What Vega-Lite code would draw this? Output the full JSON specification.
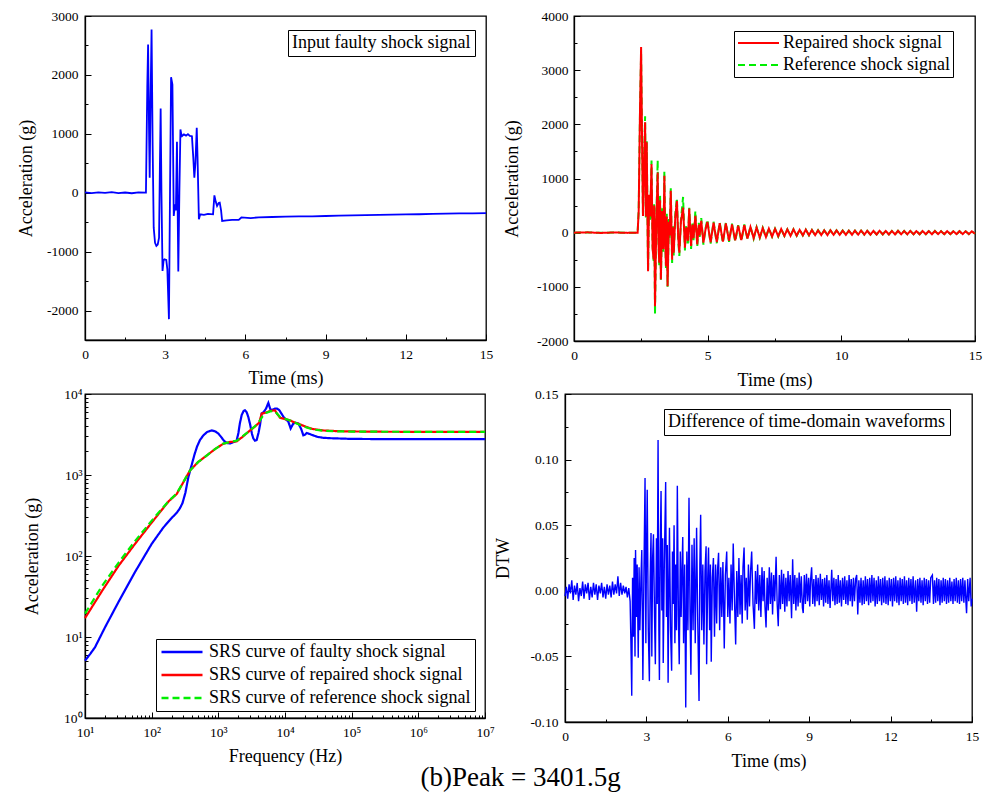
{
"$schema": "https://vega.github.io/schema/vega-lite/v6.json",
"padding": {"left": 16, "top": 8, "right": 0, "bottom": 0},
"background": "#ffffff",
"datasets": {
"faulty": [
{"t":0,"v":5},{"t":0.25,"v":-8},{"t":0.5,"v":6},{"t":0.75,"v":-4},{"t":1,"v":10},{"t":1.25,"v":-6},{"t":1.5,"v":4},{"t":1.75,"v":-9},{"t":2,"v":7},{"t":2.28,"v":2},
{"t":2.33,"v":1800},{"t":2.36,"v":2515},{"t":2.4,"v":900},{"t":2.42,"v":254},{"t":2.45,"v":1500},{"t":2.49,"v":2769},{"t":2.53,"v":800},{"t":2.57,"v":-593},{"t":2.62,"v":-850},{"t":2.67,"v":-903},{"t":2.72,"v":-880},{"t":2.77,"v":-762},{"t":2.8,"v":400},{"t":2.83,"v":1430},{"t":2.86,"v":0},{"t":2.9,"v":-1327},{"t":2.94,"v":-1150},{"t":2.97,"v":-1130},{"t":3.04,"v":-1140},{"t":3.08,"v":-1300},{"t":3.14,"v":-2146},{"t":3.18,"v":0},{"t":3.22,"v":1961},{"t":3.27,"v":1837},{"t":3.32,"v":-395},{"t":3.36,"v":-230},{"t":3.38,"v":-197},{"t":3.4,"v":-300},{"t":3.44,"v":865},{"t":3.49,"v":-1339},{"t":3.53,"v":0},{"t":3.57,"v":1074},{"t":3.6,"v":1000},{"t":3.63,"v":961},{"t":3.7,"v":990},{"t":3.78,"v":970},{"t":3.85,"v":995},{"t":3.92,"v":965},{"t":4.0,"v":960},{"t":4.05,"v":600},{"t":4.09,"v":254},{"t":4.13,"v":500},{"t":4.18,"v":1102},{"t":4.21,"v":600},{"t":4.26,"v":-451},{"t":4.31,"v":-366},{"t":4.45,"v":-375},{"t":4.6,"v":-360},{"t":4.79,"v":-366},{"t":4.84,"v":-44},{"t":4.89,"v":-150},{"t":4.94,"v":-225},{"t":5.0,"v":-175},{"t":5.04,"v":-169},{"t":5.09,"v":-300},{"t":5.13,"v":-480},{"t":5.3,"v":-470},{"t":5.5,"v":-460},{"t":5.75,"v":-460},{"t":5.85,"v":-420},{"t":6.2,"v":-430},{"t":6.5,"v":-418},{"t":7,"v":-412},{"t":7.5,"v":-405},{"t":8,"v":-400},{"t":8.5,"v":-402},{"t":9,"v":-395},{"t":9.5,"v":-390},{"t":10,"v":-385},{"t":10.5,"v":-380},{"t":11,"v":-375},{"t":11.5,"v":-372},{"t":12,"v":-367},{"t":12.5,"v":-365},{"t":13,"v":-360},{"t":13.5,"v":-356},{"t":14,"v":-352},{"t":14.5,"v":-350},{"t":15,"v":-345}
],
"repaired": [
{"t":0,"rep":0,"ref":0},{"t":0.5,"rep":6,"ref":4},{"t":1,"rep":-5,"ref":-3},{"t":1.5,"rep":4,"ref":5},{"t":2,"rep":-4,"ref":-2},{"t":2.38,"rep":0,"ref":0},
{"t":2.42,"rep":400,"ref":420},{"t":2.47,"rep":2300,"ref":2250},{"t":2.51,"rep":3426,"ref":3300},{"t":2.55,"rep":1500,"ref":1550},{"t":2.58,"rep":309,"ref":350},{"t":2.62,"rep":1200,"ref":1300},{"t":2.66,"rep":2037,"ref":2150},{"t":2.69,"rep":300,"ref":250},{"t":2.72,"rep":1667,"ref":1700},{"t":2.77,"rep":-711,"ref":-720},{"t":2.81,"rep":700,"ref":650},{"t":2.85,"rep":300,"ref":200},{"t":2.9,"rep":1265,"ref":1330},{"t":2.94,"rep":-300,"ref":-250},{"t":2.98,"rep":-494,"ref":-520},{"t":3.0,"rep":500,"ref":560},{"t":3.03,"rep":-1358,"ref":-1500},{"t":3.08,"rep":200,"ref":250},{"t":3.13,"rep":1111,"ref":1340},{"t":3.16,"rep":-200,"ref":-150},{"t":3.19,"rep":-556,"ref":-600},{"t":3.22,"rep":600,"ref":700},{"t":3.25,"rep":-864,"ref":-900},{"t":3.3,"rep":400,"ref":450},{"t":3.34,"rep":-300,"ref":-350},{"t":3.38,"rep":1049,"ref":1140},{"t":3.41,"rep":-100,"ref":-80},{"t":3.44,"rep":-620,"ref":-650},{"t":3.47,"rep":300,"ref":350},{"t":3.5,"rep":-988,"ref":-1000},{"t":3.55,"rep":200,"ref":250},{"t":3.58,"rep":-50,"ref":-100},{"t":3.62,"rep":772,"ref":820},{"t":3.67,"rep":-500,"ref":-560},{"t":3.7,"rep":100,"ref":150},{"t":3.73,"rep":-370,"ref":-420},{"t":3.79,"rep":300,"ref":350},{"t":3.85,"rep":586,"ref":640},{"t":3.9,"rep":-100,"ref":-150},{"t":3.94,"rep":-370,"ref":-430},{"t":4.0,"rep":200,"ref":240},{"t":4.08,"rep":463,"ref":660},{"t":4.15,"rep":-278,"ref":-330},{"t":4.2,"rep":100,"ref":120},{"t":4.26,"rep":-150,"ref":-200},{"t":4.31,"rep":444,"ref":460},{"t":4.38,"rep":-247,"ref":-300},{"t":4.43,"rep":150,"ref":170},{"t":4.47,"rep":-100,"ref":-140},{"t":4.54,"rep":309,"ref":400},{"t":4.61,"rep":-216,"ref":-260},{"t":4.67,"rep":150,"ref":180},{"t":4.7,"rep":-50,"ref":-80},{"t":4.76,"rep":216,"ref":270},{"t":4.84,"rep":-185,"ref":-220},{"t":4.92,"rep":60,"ref":80},{"t":4.99,"rep":198,"ref":240},{"t":5.11,"rep":-180,"ref":-200},
{"t":5.22,"rep":185,"ref":205},{"t":5.34,"rep":-175,"ref":-195},{"t":5.45,"rep":175,"ref":190},{"t":5.57,"rep":-165,"ref":-185},{"t":5.68,"rep":170,"ref":185},{"t":5.8,"rep":-150,"ref":-170},{"t":5.91,"rep":150,"ref":165},{"t":6.03,"rep":-140,"ref":-165},{"t":6.14,"rep":130,"ref":140},{"t":6.26,"rep":-135,"ref":-160},{"t":6.37,"rep":140,"ref":150},{"t":6.49,"rep":-110,"ref":-120},{"t":6.6,"rep":105,"ref":115},{"t":6.72,"rep":-100,"ref":-110},{"t":6.83,"rep":95,"ref":100},{"t":6.95,"rep":-90,"ref":-95},{"t":7.06,"rep":85,"ref":88},{"t":7.18,"rep":-80,"ref":-85},{"t":7.29,"rep":75,"ref":80},{"t":7.41,"rep":-72,"ref":-75},{"t":7.52,"rep":70,"ref":72},{"t":7.64,"rep":-65,"ref":-70},{"t":7.75,"rep":68,"ref":70},{"t":7.87,"rep":-60,"ref":-62},{"t":7.98,"rep":60,"ref":62},{"t":8.1,"rep":-58,"ref":-60},{"t":8.21,"rep":62,"ref":60},{"t":8.33,"rep":-55,"ref":-56},{"t":8.44,"rep":52,"ref":55},{"t":8.56,"rep":-50,"ref":-52},{"t":8.67,"rep":55,"ref":56},{"t":8.79,"rep":-48,"ref":-50},{"t":8.9,"rep":48,"ref":50},{"t":9.02,"rep":-46,"ref":-47},{"t":9.13,"rep":44,"ref":46},{"t":9.25,"rep":-45,"ref":-45},{"t":9.36,"rep":42,"ref":44},{"t":9.48,"rep":-44,"ref":-44},{"t":9.59,"rep":45,"ref":45},{"t":9.71,"rep":-40,"ref":-42},{"t":9.82,"rep":42,"ref":43},{"t":9.94,"rep":-40,"ref":-40},{"t":10.05,"rep":38,"ref":40},{"t":10.17,"rep":-40,"ref":-40},{"t":10.28,"rep":36,"ref":38},{"t":10.4,"rep":-38,"ref":-38},{"t":10.51,"rep":37,"ref":37},{"t":10.63,"rep":-36,"ref":-36},{"t":10.74,"rep":38,"ref":38},{"t":10.86,"rep":-35,"ref":-36},{"t":10.97,"rep":34,"ref":35},{"t":11.09,"rep":-36,"ref":-36},{"t":11.2,"rep":33,"ref":34},{"t":11.32,"rep":-34,"ref":-34},{"t":11.43,"rep":35,"ref":35},{"t":11.55,"rep":-32,"ref":-33},{"t":11.66,"rep":32,"ref":32},{"t":11.78,"rep":-33,"ref":-33},{"t":11.89,"rep":31,"ref":32},{"t":12.01,"rep":-32,"ref":-32},{"t":12.12,"rep":33,"ref":33},{"t":12.24,"rep":-30,"ref":-31},{"t":12.35,"rep":30,"ref":30},{"t":12.47,"rep":-31,"ref":-31},{"t":12.58,"rep":32,"ref":32},{"t":12.7,"rep":-30,"ref":-30},{"t":12.81,"rep":29,"ref":29},{"t":12.93,"rep":-30,"ref":-30},{"t":13.04,"rep":30,"ref":30},{"t":13.16,"rep":-28,"ref":-29},{"t":13.27,"rep":28,"ref":28},{"t":13.39,"rep":-29,"ref":-29},{"t":13.5,"rep":30,"ref":30},{"t":13.62,"rep":-27,"ref":-27},{"t":13.73,"rep":27,"ref":28},{"t":13.85,"rep":-28,"ref":-28},{"t":13.96,"rep":28,"ref":28},{"t":14.08,"rep":-27,"ref":-27},{"t":14.19,"rep":26,"ref":26},{"t":14.31,"rep":-27,"ref":-27},{"t":14.42,"rep":27,"ref":27},{"t":14.54,"rep":-26,"ref":-26},{"t":14.65,"rep":26,"ref":26},{"t":14.77,"rep":-27,"ref":-27},{"t":14.88,"rep":25,"ref":25},{"t":15,"rep":-20,"ref":-20}
],
"srs": [
{"s":"faulty","f":10,"a":5.1},{"s":"faulty","f":12,"a":6.2},{"s":"faulty","f":14.1,"a":7.45},{"s":"faulty","f":20,"a":13.2},{"s":"faulty","f":31.6,"a":26.8},{"s":"faulty","f":56,"a":63},{"s":"faulty","f":100,"a":141},{"s":"faulty","f":150,"a":225},{"s":"faulty","f":200,"a":295},{"s":"faulty","f":240,"a":345},{"s":"faulty","f":266,"a":390},{"s":"faulty","f":290,"a":450},{"s":"faulty","f":320,"a":600},{"s":"faulty","f":355,"a":940},{"s":"faulty","f":400,"a":1350},{"s":"faulty","f":440,"a":1800},{"s":"faulty","f":480,"a":2250},{"s":"faulty","f":530,"a":2700},{"s":"faulty","f":596,"a":3085},{"s":"faulty","f":680,"a":3400},{"s":"faulty","f":794,"a":3550},{"s":"faulty","f":900,"a":3450},{"s":"faulty","f":1000,"a":3250},{"s":"faulty","f":1100,"a":2950},{"s":"faulty","f":1200,"a":2680},{"s":"faulty","f":1334,"a":2480},{"s":"faulty","f":1500,"a":2450},{"s":"faulty","f":1700,"a":2550},{"s":"faulty","f":1884,"a":2670},{"s":"faulty","f":2000,"a":3300},{"s":"faulty","f":2100,"a":4300},{"s":"faulty","f":2239,"a":5500},{"s":"faulty","f":2400,"a":6200},{"s":"faulty","f":2512,"a":6300},{"s":"faulty","f":2650,"a":6000},{"s":"faulty","f":2818,"a":5200},{"s":"faulty","f":3000,"a":4200},{"s":"faulty","f":3200,"a":3200},{"s":"faulty","f":3350,"a":2830},{"s":"faulty","f":3550,"a":2650},{"s":"faulty","f":3758,"a":2700},{"s":"faulty","f":4000,"a":3300},{"s":"faulty","f":4217,"a":4140},{"s":"faulty","f":4467,"a":5750},{"s":"faulty","f":4800,"a":6000},{"s":"faulty","f":5190,"a":6600},{"s":"faulty","f":5450,"a":7300},{"s":"faulty","f":5623,"a":7760},{"s":"faulty","f":5850,"a":7000},{"s":"faulty","f":6095,"a":6310},{"s":"faulty","f":6500,"a":6400},{"s":"faulty","f":7080,"a":6600},{"s":"faulty","f":7600,"a":6600},{"s":"faulty","f":8222,"a":6310},{"s":"faulty","f":9440,"a":5250},{"s":"faulty","f":10200,"a":4900},{"s":"faulty","f":11220,"a":4550},{"s":"faulty","f":12160,"a":3760},{"s":"faulty","f":13340,"a":4330},{"s":"faulty","f":14500,"a":4400},{"s":"faulty","f":15850,"a":4330},{"s":"faulty","f":17500,"a":3700},{"s":"faulty","f":18840,"a":3085},{"s":"faulty","f":20000,"a":3150},{"s":"faulty","f":21130,"a":3300},{"s":"faulty","f":23500,"a":3200},{"s":"faulty","f":26600,"a":3085},{"s":"faulty","f":31000,"a":2950},{"s":"faulty","f":37600,"a":2880},{"s":"faulty","f":48000,"a":2845},{"s":"faulty","f":59600,"a":2830},{"s":"faulty","f":100000,"a":2790},{"s":"faulty","f":200000,"a":2780},{"s":"faulty","f":1000000,"a":2780},{"s":"faulty","f":10000000,"a":2775},
{"s":"repaired","f":10,"a":17.1},{"s":"repaired","f":18,"a":37},{"s":"repaired","f":32,"a":76},{"s":"repaired","f":57,"a":143},{"s":"repaired","f":101,"a":261},{"s":"repaired","f":180,"a":474},{"s":"repaired","f":237,"a":580},{"s":"repaired","f":376,"a":1138},{"s":"repaired","f":500,"a":1450},{"s":"repaired","f":668,"a":1738},{"s":"repaired","f":900,"a":2100},{"s":"repaired","f":1189,"a":2432},{"s":"repaired","f":1500,"a":2560},{"s":"repaired","f":1884,"a":2600},{"s":"repaired","f":2300,"a":2950},{"s":"repaired","f":2985,"a":3548},{"s":"repaired","f":3600,"a":4000},{"s":"repaired","f":4121,"a":4467},{"s":"repaired","f":4300,"a":5100},{"s":"repaired","f":4467,"a":5715},{"s":"repaired","f":5200,"a":5900},{"s":"repaired","f":5957,"a":6166},{"s":"repaired","f":6500,"a":6250},{"s":"repaired","f":7080,"a":6281},{"s":"repaired","f":7500,"a":5800},{"s":"repaired","f":8414,"a":5093},{"s":"repaired","f":10000,"a":4900},{"s":"repaired","f":11885,"a":4721},{"s":"repaired","f":14000,"a":4450},{"s":"repaired","f":16790,"a":4217},{"s":"repaired","f":21130,"a":3908},{"s":"repaired","f":26000,"a":3700},{"s":"repaired","f":37580,"a":3548},{"s":"repaired","f":60000,"a":3480},{"s":"repaired","f":100000,"a":3450},{"s":"repaired","f":300000,"a":3420},{"s":"repaired","f":10000000,"a":3401},
{"s":"reference","f":10,"a":19.4},{"s":"reference","f":18,"a":42.7},{"s":"reference","f":32,"a":83},{"s":"reference","f":57,"a":155},{"s":"reference","f":101,"a":275},{"s":"reference","f":180,"a":478},{"s":"reference","f":237,"a":590},{"s":"reference","f":376,"a":1140},{"s":"reference","f":500,"a":1450},{"s":"reference","f":668,"a":1740},{"s":"reference","f":900,"a":2100},{"s":"reference","f":1189,"a":2440},{"s":"reference","f":1500,"a":2560},{"s":"reference","f":1884,"a":2650},{"s":"reference","f":2300,"a":3000},{"s":"reference","f":2985,"a":3550},{"s":"reference","f":3600,"a":4050},{"s":"reference","f":4121,"a":4600},{"s":"reference","f":4600,"a":5300},{"s":"reference","f":5200,"a":5850},{"s":"reference","f":5957,"a":6100},{"s":"reference","f":6500,"a":6150},{"s":"reference","f":7080,"a":6100},{"s":"reference","f":7800,"a":5600},{"s":"reference","f":8414,"a":5200},{"s":"reference","f":10000,"a":4950},{"s":"reference","f":11885,"a":4721},{"s":"reference","f":14000,"a":4450},{"s":"reference","f":16790,"a":4150},{"s":"reference","f":21130,"a":3850},{"s":"reference","f":26000,"a":3650},{"s":"reference","f":37580,"a":3520},{"s":"reference","f":60000,"a":3460},{"s":"reference","f":100000,"a":3440},{"s":"reference","f":300000,"a":3420},{"s":"reference","f":10000000,"a":3401}
],
"dtw": [
{"t":0,"d":-0.004},{"t":0.05,"d":0.003},{"t":0.1,"d":-0.006},{"t":0.15,"d":0.005},{"t":0.2,"d":-0.002},{"t":0.25,"d":0.008},{"t":0.3,"d":-0.007},{"t":0.35,"d":0.004},{"t":0.4,"d":-0.003},{"t":0.45,"d":0.006},{"t":0.5,"d":-0.008},{"t":0.55,"d":0.002},{"t":0.6,"d":-0.004},{"t":0.65,"d":0.007},{"t":0.7,"d":-0.006},{"t":0.75,"d":0.005},{"t":0.8,"d":-0.002},{"t":0.85,"d":0.006},{"t":0.9,"d":-0.007},{"t":0.95,"d":0.003},{"t":1.0,"d":-0.005},{"t":1.05,"d":0.006},{"t":1.1,"d":-0.003},{"t":1.15,"d":0.005},{"t":1.2,"d":-0.007},{"t":1.25,"d":0.004},{"t":1.3,"d":-0.002},{"t":1.35,"d":0.006},{"t":1.4,"d":-0.005},{"t":1.45,"d":0.003},{"t":1.5,"d":-0.006},{"t":1.55,"d":0.005},{"t":1.6,"d":-0.003},{"t":1.65,"d":0.004},{"t":1.7,"d":-0.005},{"t":1.75,"d":0.007},{"t":1.8,"d":-0.003},{"t":1.85,"d":0.005},{"t":1.9,"d":-0.002},{"t":1.95,"d":0.011},{"t":2.0,"d":-0.004},{"t":2.05,"d":0.006},{"t":2.1,"d":-0.003},{"t":2.15,"d":0.004},{"t":2.2,"d":-0.002},{"t":2.25,"d":0.003},{"t":2.3,"d":-0.005},{"t":2.35,"d":0.002},{"t":2.4,"d":-0.008},
{"t":2.43,"d":-0.04},{"t":2.46,"d":-0.08},{"t":2.49,"d":0.01},{"t":2.52,"d":-0.035},{"t":2.55,"d":0.025},{"t":2.58,"d":-0.05},{"t":2.6,"d":0.031},{"t":2.63,"d":-0.02},{"t":2.66,"d":0.02},{"t":2.7,"d":-0.051},{"t":2.73,"d":0.018},{"t":2.76,"d":-0.03},{"t":2.8,"d":0.01},{"t":2.83,"d":0.031},{"t":2.87,"d":-0.068},{"t":2.91,"d":0.015},{"t":2.95,"d":0.086},{"t":2.98,"d":-0.04},{"t":3.0,"d":0.02},{"t":3.03,"d":0.077},{"t":3.07,"d":-0.03},{"t":3.11,"d":-0.069},{"t":3.14,"d":0.01},{"t":3.17,"d":0.044},{"t":3.2,"d":-0.05},{"t":3.23,"d":0.025},{"t":3.26,"d":0.043},{"t":3.3,"d":-0.02},{"t":3.33,"d":-0.056},{"t":3.37,"d":0.04},{"t":3.4,"d":-0.01},{"t":3.43,"d":0.115},{"t":3.46,"d":-0.03},{"t":3.48,"d":-0.068},{"t":3.51,"d":0.03},{"t":3.54,"d":0.076},{"t":3.57,"d":-0.015},{"t":3.6,"d":0.04},{"t":3.62,"d":-0.055},{"t":3.66,"d":0.02},{"t":3.71,"d":0.083},{"t":3.74,"d":-0.02},{"t":3.77,"d":0.035},{"t":3.8,"d":-0.07},{"t":3.83,"d":0.01},{"t":3.85,"d":0.048},{"t":3.89,"d":-0.03},{"t":3.93,"d":-0.061},{"t":3.96,"d":0.03},{"t":3.99,"d":-0.01},{"t":4.02,"d":0.05},{"t":4.05,"d":-0.04},{"t":4.08,"d":0.02},{"t":4.11,"d":-0.03},{"t":4.14,"d":0.08},{"t":4.18,"d":-0.02},{"t":4.21,"d":-0.056},{"t":4.25,"d":0.03},{"t":4.28,"d":-0.02},{"t":4.31,"d":0.015},{"t":4.34,"d":0.041},{"t":4.37,"d":-0.04},{"t":4.41,"d":0.02},{"t":4.45,"d":-0.089},{"t":4.49,"d":0.03},{"t":4.53,"d":-0.03},{"t":4.57,"d":0.071},{"t":4.61,"d":-0.02},{"t":4.64,"d":-0.064},{"t":4.68,"d":0.035},{"t":4.72,"d":-0.03},{"t":4.76,"d":0.04},{"t":4.8,"d":-0.04},{"t":4.85,"d":0.048},{"t":4.89,"d":-0.02},{"t":4.94,"d":-0.084},{"t":4.97,"d":0.02},{"t":5.0,"d":0.058},{"t":5.04,"d":-0.03},{"t":5.08,"d":0.02},{"t":5.12,"d":-0.041},{"t":5.16,"d":0.015},{"t":5.2,"d":0.034},{"t":5.22,"d":-0.056},{"t":5.26,"d":0.01},{"t":5.29,"d":0.033},{"t":5.33,"d":-0.03},{"t":5.36,"d":0.02},{"t":5.39,"d":-0.054},{"t":5.43,"d":0.01},{"t":5.47,"d":0.025},{"t":5.51,"d":-0.035},{"t":5.55,"d":0.02},{"t":5.59,"d":-0.025},{"t":5.62,"d":0.015},{"t":5.66,"d":0.029},{"t":5.7,"d":-0.03},{"t":5.74,"d":0.018},{"t":5.78,"d":-0.02},{"t":5.82,"d":0.022},{"t":5.87,"d":-0.044},{"t":5.91,"d":0.012},{"t":5.96,"d":0.03},{"t":6.0,"d":-0.02},{"t":6.04,"d":0.01},{"t":6.08,"d":-0.025},{"t":6.12,"d":0.02},{"t":6.16,"d":-0.015},{"t":6.2,"d":0.036},{"t":6.25,"d":-0.01},{"t":6.29,"d":-0.041},{"t":6.33,"d":0.015},{"t":6.37,"d":-0.02},{"t":6.41,"d":0.025},{"t":6.45,"d":-0.018},{"t":6.49,"d":0.012},{"t":6.53,"d":-0.025},{"t":6.56,"d":0.018},{"t":6.6,"d":0.033},{"t":6.64,"d":-0.015},{"t":6.68,"d":0.01},{"t":6.72,"d":-0.022},{"t":6.76,"d":0.02},{"t":6.8,"d":-0.012},{"t":6.84,"d":0.015},{"t":6.88,"d":0.03},{"t":6.93,"d":-0.01},{"t":6.98,"d":-0.029},{"t":7.02,"d":0.015},{"t":7.06,"d":-0.01},{"t":7.1,"d":0.02},{"t":7.14,"d":-0.015},{"t":7.18,"d":0.012},{"t":7.22,"d":-0.02},{"t":7.26,"d":0.018},{"t":7.3,"d":-0.008},{"t":7.34,"d":0.015},{"t":7.37,"d":-0.012},{"t":7.41,"d":-0.028},{"t":7.45,"d":0.01},{"t":7.49,"d":-0.015},{"t":7.53,"d":0.018},{"t":7.57,"d":-0.01},{"t":7.61,"d":0.014},{"t":7.65,"d":-0.018},{"t":7.69,"d":0.012},{"t":7.73,"d":-0.008},{"t":7.78,"d":0.026},{"t":7.82,"d":-0.01},{"t":7.86,"d":-0.027},{"t":7.9,"d":0.012},{"t":7.94,"d":-0.014},{"t":7.98,"d":0.016},{"t":8.02,"d":-0.01},{"t":8.06,"d":0.013},{"t":8.1,"d":-0.016},{"t":8.14,"d":0.01},{"t":8.18,"d":-0.012},{"t":8.22,"d":0.015},{"t":8.26,"d":-0.008},{"t":8.3,"d":0.012},{"t":8.35,"d":-0.021},{"t":8.39,"d":0.024},{"t":8.43,"d":-0.01},{"t":8.47,"d":0.012},{"t":8.51,"d":-0.015},{"t":8.55,"d":0.01},{"t":8.59,"d":-0.012},{"t":8.63,"d":0.014},{"t":8.67,"d":-0.009},{"t":8.71,"d":0.011},{"t":8.75,"d":-0.013},{"t":8.78,"d":-0.017},{"t":8.82,"d":0.012},{"t":8.86,"d":-0.01},{"t":8.9,"d":0.013},{"t":8.94,"d":-0.008},{"t":8.98,"d":0.01},{"t":9.02,"d":-0.012},{"t":9.05,"d":0.008},{"t":9.09,"d":0.018},{"t":9.13,"d":-0.01},{"t":9.17,"d":0.009},{"t":9.21,"d":-0.012},{"t":9.25,"d":0.012},{"t":9.29,"d":-0.008},{"t":9.33,"d":0.01},{"t":9.37,"d":-0.011},{"t":9.41,"d":0.013},{"t":9.45,"d":-0.007},{"t":9.49,"d":0.009},{"t":9.53,"d":-0.012},{"t":9.57,"d":0.01},{"t":9.61,"d":-0.009},{"t":9.65,"d":0.012},{"t":9.69,"d":-0.01},{"t":9.73,"d":0.008},{"t":9.77,"d":-0.013},{"t":9.83,"d":0.016},{"t":9.87,"d":-0.008},{"t":9.91,"d":0.01},{"t":9.95,"d":-0.011},{"t":9.99,"d":0.009},{"t":10.03,"d":-0.01},{"t":10.07,"d":0.012},{"t":10.11,"d":-0.009},{"t":10.15,"d":0.008},{"t":10.19,"d":-0.012},{"t":10.23,"d":0.01},{"t":10.27,"d":-0.007},{"t":10.31,"d":0.011},{"t":10.35,"d":-0.01},{"t":10.39,"d":0.008},{"t":10.43,"d":-0.011},{"t":10.47,"d":0.012},{"t":10.51,"d":-0.008},{"t":10.55,"d":0.009},{"t":10.59,"d":-0.012},{"t":10.63,"d":0.01},{"t":10.67,"d":-0.008},{"t":10.71,"d":0.009},{"t":10.75,"d":0.012},{"t":10.79,"d":-0.018},{"t":10.83,"d":0.008},{"t":10.87,"d":-0.009},{"t":10.91,"d":0.01},{"t":10.95,"d":-0.011},{"t":10.99,"d":0.008},{"t":11.03,"d":-0.01},{"t":11.07,"d":0.011},{"t":11.11,"d":-0.008},{"t":11.15,"d":0.009},{"t":11.19,"d":-0.011},{"t":11.23,"d":0.01},{"t":11.27,"d":-0.009},{"t":11.31,"d":0.012},{"t":11.35,"d":-0.008},{"t":11.39,"d":0.01},{"t":11.43,"d":-0.012},{"t":11.47,"d":0.008},{"t":11.51,"d":-0.01},{"t":11.55,"d":0.011},{"t":11.59,"d":-0.008},{"t":11.63,"d":0.009},{"t":11.67,"d":-0.011},{"t":11.71,"d":0.01},{"t":11.75,"d":-0.009},{"t":11.79,"d":0.011},{"t":11.83,"d":-0.01},{"t":11.87,"d":0.008},{"t":11.91,"d":-0.011},{"t":11.95,"d":0.01},{"t":11.99,"d":-0.008},{"t":12.03,"d":0.009},{"t":12.07,"d":-0.012},{"t":12.11,"d":0.01},{"t":12.15,"d":-0.008},{"t":12.19,"d":0.011},{"t":12.23,"d":-0.009},{"t":12.27,"d":0.008},{"t":12.31,"d":-0.011},{"t":12.35,"d":0.01},{"t":12.39,"d":-0.008},{"t":12.43,"d":0.009},{"t":12.47,"d":-0.01},{"t":12.51,"d":0.011},{"t":12.55,"d":-0.009},{"t":12.59,"d":0.008},{"t":12.63,"d":-0.011},{"t":12.67,"d":0.01},{"t":12.71,"d":-0.008},{"t":12.75,"d":0.009},{"t":12.79,"d":-0.01},{"t":12.83,"d":0.011},{"t":12.87,"d":-0.009},{"t":12.92,"d":0.008},{"t":12.96,"d":-0.016},{"t":13.0,"d":0.009},{"t":13.04,"d":-0.008},{"t":13.08,"d":0.01},{"t":13.12,"d":-0.009},{"t":13.16,"d":0.008},{"t":13.2,"d":-0.011},{"t":13.24,"d":0.01},{"t":13.28,"d":-0.008},{"t":13.32,"d":0.009},{"t":13.36,"d":-0.01},{"t":13.4,"d":0.008},{"t":13.44,"d":-0.009},{"t":13.48,"d":0.01},{"t":13.54,"d":0.012},{"t":13.58,"d":-0.01},{"t":13.62,"d":0.008},{"t":13.66,"d":-0.009},{"t":13.7,"d":0.01},{"t":13.74,"d":-0.008},{"t":13.78,"d":0.009},{"t":13.82,"d":-0.011},{"t":13.86,"d":0.008},{"t":13.9,"d":-0.009},{"t":13.94,"d":0.01},{"t":13.98,"d":-0.008},{"t":14.02,"d":0.009},{"t":14.06,"d":-0.01},{"t":14.1,"d":0.008},{"t":14.14,"d":-0.009},{"t":14.18,"d":0.01},{"t":14.22,"d":-0.008},{"t":14.26,"d":0.007},{"t":14.3,"d":-0.01},{"t":14.34,"d":0.009},{"t":14.38,"d":-0.008},{"t":14.42,"d":0.01},{"t":14.46,"d":-0.009},{"t":14.5,"d":0.008},{"t":14.54,"d":-0.01},{"t":14.58,"d":0.009},{"t":14.62,"d":-0.008},{"t":14.66,"d":0.01},{"t":14.7,"d":-0.009},{"t":14.74,"d":0.008},{"t":14.78,"d":-0.01},{"t":14.8,"d":-0.017},{"t":14.84,"d":0.009},{"t":14.88,"d":-0.008},{"t":14.93,"d":0.01},{"t":14.97,"d":-0.012},{"t":15,"d":-0.006}
]
},
"title": {"text": "(b)Peak = 3401.5g", "orient": "bottom", "anchor": "middle", "font": "Liberation Serif", "fontSize": 27, "fontWeight": "normal", "color": "#000000", "offset": -6, "dx": 21},
"spacing": -5,
"align": "none",
"resolve": {"scale": {"color": "independent", "strokeDash": "independent"}, "legend": {"color": "independent", "strokeDash": "independent"}},
"vconcat": [
{
"spacing": 8,
"resolve": {"scale": {"color": "independent", "strokeDash": "independent"}, "legend": {"color": "independent", "strokeDash": "independent"}},
"hconcat": [
{
"width": 401, "height": 324,
"data": {"name": "faulty"},
"resolve": {"axis": {"x": "independent", "y": "independent"}},
"layer": [
{"mark": {"type": "line", "strokeWidth": 1.8},
"encoding": {
"x": {"field": "t", "type": "quantitative", "scale": {"domain": [0, 15], "nice": false}, "axis": {"orient": "bottom", "values": [0,3,6,9,12,15], "title": "Time (ms)", "tickSize": -6, "labelPadding": 13, "titlePadding": 9, "format": "d"}},
"y": {"field": "v", "type": "quantitative", "scale": {"domain": [-2500, 3000], "nice": false}, "axis": {"orient": "left", "values": [-2000,-1000,0,1000,2000,3000], "title": "Acceleration (g)", "tickSize": -6, "labelPadding": 13, "titlePadding": 11, "labelExpr": "datum.value + ''"}},
"color": {"datum": "Input faulty shock signal", "type": "nominal", "scale": {"range": ["#0000ff"]}, "legend": {"title": null, "orient": "none", "legendX": 203, "legendY": 14, "symbolType": "circle", "symbolSize": 1, "symbolOpacity": 0, "symbolStrokeWidth": 0, "labelOffset": -18, "padding": 4, "strokeColor": "#000000", "fillColor": "#ffffff", "labelFont": "Liberation Serif", "labelFontSize": 18}}
}},
{"mark": {"type": "line", "opacity": 0},
"encoding": {
"x": {"field": "t", "type": "quantitative", "axis": {"orient": "bottom", "values": [1.5,4.5,7.5,10.5,13.5], "tickSize": -3, "labels": false, "domain": false, "title": null}},
"y": {"field": "v", "type": "quantitative", "axis": {"orient": "left", "values": [-2500,-1500,-500,500,1500,2500], "tickSize": -3, "labels": false, "domain": false, "title": null}}
}}
]
},
{
"width": 401, "height": 325,
"data": {"name": "repaired"},
"transform": [{"fold": ["ref", "rep"], "as": ["s", "v"]}],
"resolve": {"axis": {"x": "independent", "y": "independent"}},
"layer": [
{"mark": {"type": "line", "strokeWidth": 2},
"encoding": {
"x": {"field": "t", "type": "quantitative", "scale": {"domain": [0, 15], "nice": false}, "axis": {"orient": "bottom", "values": [0,5,10,15], "title": "Time (ms)", "tickSize": -6, "labelPadding": 13, "titlePadding": 10, "format": "d"}},
"y": {"field": "v", "type": "quantitative", "scale": {"domain": [-2000, 4000], "nice": false}, "axis": {"orient": "left", "values": [-2000,-1000,0,1000,2000,3000,4000], "title": "Acceleration (g)", "tickSize": -6, "labelPadding": 12, "titlePadding": 15, "labelExpr": "datum.value + ''"}},
"color": {"field": "s", "type": "nominal", "scale": {"domain": ["rep", "ref"], "range": ["#ff0000", "#00ee00"]}, "legend": {"title": null, "orient": "none", "legendX": 160, "legendY": 15, "symbolType": "stroke", "symbolSize": 1681, "symbolStrokeWidth": 2, "clipHeight": 18, "labelOffset": 3, "rowPadding": 4, "padding": 3, "strokeColor": "#000000", "fillColor": "#ffffff", "labelFont": "Liberation Serif", "labelFontSize": 18, "labelExpr": "datum.label == 'rep' ? 'Repaired shock signal' : 'Reference shock signal'"}},
"strokeDash": {"field": "s", "type": "nominal", "scale": {"domain": ["rep", "ref"], "range": [[1, 0], [7, 4]]}, "legend": {"title": null, "orient": "none", "legendX": 160, "legendY": 15, "symbolType": "stroke", "symbolSize": 1681, "symbolStrokeWidth": 2, "clipHeight": 18, "labelOffset": 3, "rowPadding": 4, "padding": 3, "strokeColor": "#000000", "fillColor": "#ffffff", "labelFont": "Liberation Serif", "labelFontSize": 18, "labelExpr": "datum.label == 'rep' ? 'Repaired shock signal' : 'Reference shock signal'"}}
}},
{"mark": {"type": "line", "opacity": 0},
"encoding": {
"x": {"field": "t", "type": "quantitative", "axis": {"orient": "bottom", "values": [2.5,7.5,12.5], "tickSize": -3, "labels": false, "domain": false, "title": null}},
"y": {"field": "v", "type": "quantitative", "axis": {"orient": "left", "values": [-1500,-500,500,1500,2500,3500], "tickSize": -3, "labels": false, "domain": false, "title": null}}
}}
]
}
]
},
{
"spacing": -1,
"resolve": {"scale": {"color": "independent", "strokeDash": "independent"}, "legend": {"color": "independent", "strokeDash": "independent"}},
"hconcat": [
{
"width": 400, "height": 324,
"data": {"name": "srs"},
"resolve": {"axis": {"x": "independent", "y": "independent"}},
"layer": [
{"mark": {"type": "line", "strokeWidth": 2.2},
"encoding": {
"x": {"field": "f", "type": "quantitative", "scale": {"type": "log", "domain": [10, 10000000], "nice": false}, "axis": {"orient": "bottom", "values": [10,100,1000,10000,100000,1000000,10000000], "title": "Frequency (Hz)", "tickSize": -6, "labelPadding": 13, "titlePadding": 9, "labelExpr": "'10' + ['⁰','¹','²','³','⁴','⁵','⁶','⁷'][round(log(datum.value)/LN10)]"}},
"y": {"field": "a", "type": "quantitative", "scale": {"type": "log", "domain": [1, 10000], "nice": false}, "axis": {"orient": "left", "values": [1,10,100,1000,10000], "title": "Acceleration (g)", "tickSize": -6, "labelPadding": 9, "titlePadding": 22, "labelExpr": "'10' + ['⁰','¹','²','³','⁴','⁵','⁶','⁷'][round(log(datum.value)/LN10)]"}},
"color": {"field": "s", "type": "nominal", "scale": {"domain": ["faulty", "repaired", "reference"], "range": ["#0000ff", "#ff0000", "#00ee00"]}, "legend": {"title": null, "orient": "none", "legendX": 71, "legendY": 245, "symbolType": "stroke", "symbolSize": 1681, "symbolStrokeWidth": 2.5, "clipHeight": 18, "labelOffset": 5, "rowPadding": 5, "padding": 4, "strokeColor": "#000000", "fillColor": "#ffffff", "labelFont": "Liberation Serif", "labelFontSize": 18, "labelExpr": "datum.label == 'faulty' ? 'SRS curve of faulty shock signal' : datum.label == 'repaired' ? 'SRS curve of repaired shock signal' : 'SRS curve of reference shock signal'"}},
"strokeDash": {"field": "s", "type": "nominal", "scale": {"domain": ["faulty", "repaired", "reference"], "range": [[1, 0], [1, 0], [7, 4]]}, "legend": {"title": null, "orient": "none", "legendX": 71, "legendY": 245, "symbolType": "stroke", "symbolSize": 1681, "symbolStrokeWidth": 2.5, "clipHeight": 18, "labelOffset": 5, "rowPadding": 5, "padding": 4, "strokeColor": "#000000", "fillColor": "#ffffff", "labelFont": "Liberation Serif", "labelFontSize": 18, "labelExpr": "datum.label == 'faulty' ? 'SRS curve of faulty shock signal' : datum.label == 'repaired' ? 'SRS curve of repaired shock signal' : 'SRS curve of reference shock signal'"}}
}},
{"mark": {"type": "line", "opacity": 0},
"encoding": {
"x": {"field": "f", "type": "quantitative", "axis": {"orient": "bottom", "values": [20,30,40,50,60,70,80,90,200,300,400,500,600,700,800,900,2000,3000,4000,5000,6000,7000,8000,9000,20000,30000,40000,50000,60000,70000,80000,90000,200000,300000,400000,500000,600000,700000,800000,900000,2000000,3000000,4000000,5000000,6000000,7000000,8000000,9000000], "tickSize": -3, "labels": false, "domain": false, "title": null}},
"y": {"field": "a", "type": "quantitative", "axis": {"orient": "left", "values": [2,3,4,5,6,7,8,9,20,30,40,50,60,70,80,90,200,300,400,500,600,700,800,900,2000,3000,4000,5000,6000,7000,8000,9000], "tickSize": -3, "labels": false, "domain": false, "title": null}}
}}
]
},
{
"width": 407, "height": 328,
"data": {"name": "dtw"},
"resolve": {"axis": {"x": "independent", "y": "independent"}},
"layer": [
{"mark": {"type": "line", "strokeWidth": 1.4},
"encoding": {
"x": {"field": "t", "type": "quantitative", "scale": {"domain": [0, 15], "nice": false}, "axis": {"orient": "bottom", "values": [0,3,6,9,12,15], "title": "Time (ms)", "tickSize": -6, "labelPadding": 13, "titlePadding": 10, "format": "d"}},
"y": {"field": "d", "type": "quantitative", "scale": {"domain": [-0.1, 0.15], "nice": false}, "axis": {"orient": "left", "values": [-0.1,-0.05,0,0.05,0.1,0.15], "title": "DTW", "tickSize": -6, "labelPadding": 13, "titlePadding": 17, "labelExpr": "replace(format(datum.value, '.2f'), '−', '-')"}},
"color": {"datum": "Difference of time-domain waveforms", "type": "nominal", "scale": {"range": ["#0000ff"]}, "legend": {"title": null, "orient": "none", "legendX": 99, "legendY": 15, "symbolType": "circle", "symbolSize": 1, "symbolOpacity": 0, "symbolStrokeWidth": 0, "labelOffset": -18, "padding": 4, "strokeColor": "#000000", "fillColor": "#ffffff", "labelFont": "Liberation Serif", "labelFontSize": 18}}
}},
{"mark": {"type": "line", "opacity": 0},
"encoding": {
"x": {"field": "t", "type": "quantitative", "axis": {"orient": "bottom", "values": [1.5,4.5,7.5,10.5,13.5], "tickSize": -3, "labels": false, "domain": false, "title": null}},
"y": {"field": "d", "type": "quantitative", "axis": {"orient": "left", "values": [-0.075,-0.025,0.025,0.075,0.125], "tickSize": -3, "labels": false, "domain": false, "title": null}}
}}
]
}
]
}
],
"config": {
"font": "Liberation Serif",
"view": {"stroke": "#000000", "strokeWidth": 1.3},
"axis": {"domainColor": "#000000", "domainWidth": 1.3, "tickColor": "#000000", "tickWidth": 1, "labelColor": "#000000", "titleColor": "#000000", "labelFont": "Liberation Serif", "titleFont": "Liberation Serif", "labelFontSize": 13.5, "titleFontSize": 18, "titleFontWeight": "normal", "grid": false, "labelFlush": false, "labelOverlap": false},
"legend": {"labelFont": "Liberation Serif", "labelFontSize": 18, "labelColor": "#000000", "labelLimit": 0, "strokeWidth": 1}
}
}
